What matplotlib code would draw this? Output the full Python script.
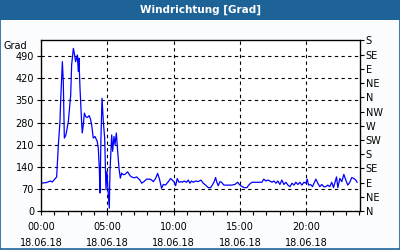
import matplotlib
matplotlib.use("Agg")
import matplotlib.pyplot as plt
from matplotlib.patches import Rectangle

# hours after 00:00 on 18.06.18 and wind direction in degrees
hours = [
    0.00, 0.40, 0.70, 0.85, 1.00, 1.10, 1.18, 1.31, 1.43, 1.48, 1.56, 1.61, 1.68, 1.76,
    1.88, 2.06, 2.24, 2.31, 2.44, 2.51, 2.61, 2.74, 2.81, 2.86, 2.94, 3.06, 3.11, 3.19,
    3.27, 3.37, 3.49, 3.64, 3.74, 3.82, 3.94, 4.07, 4.24, 4.32, 4.40, 4.45, 4.52, 4.60,
    4.70, 4.80, 4.90, 4.97, 5.05, 5.15, 5.20, 5.33, 5.40, 5.50, 5.58, 5.68, 5.78, 5.88,
    5.98, 6.08, 6.20, 6.33, 6.53, 6.71, 6.83, 7.03, 7.21, 7.34, 7.46, 7.59, 7.76, 7.96,
    8.21, 8.34, 8.47, 8.64, 8.79, 8.92, 9.09, 9.22, 9.39, 9.60, 9.77, 9.90, 10.02, 10.15,
    10.27, 10.40, 10.55, 10.65, 10.80, 10.98, 11.10, 11.23, 11.35, 11.48, 11.66, 11.85,
    12.06, 12.23, 12.41, 12.61, 12.79, 12.91, 13.06, 13.16, 13.26, 13.36, 13.49, 13.61,
    13.79, 13.99, 14.37, 14.62, 14.82, 15.00, 15.17, 15.35, 15.52, 15.70, 15.90, 16.28,
    16.65, 16.80, 16.95, 17.11, 17.26, 17.41, 17.56, 17.71, 17.86, 18.01, 18.16, 18.31,
    18.46, 18.62, 18.77, 18.92, 19.07, 19.22, 19.37, 19.52, 19.67, 19.82, 19.97, 20.07,
    20.17, 20.32, 20.47, 20.62, 20.72, 20.87, 21.02, 21.17, 21.32, 21.47, 21.62, 21.77,
    21.92, 22.05, 22.18, 22.28, 22.38, 22.53, 22.68, 22.83, 22.98, 23.13, 23.28, 23.43,
    23.58, 23.73, 23.83,
]
direction = [
    88, 90, 95, 92, 99, 104, 108, 210, 283, 347, 426, 473, 410, 231,
    241, 283, 368, 463, 515, 500, 473, 494, 442, 484, 389, 283, 247, 273,
    310, 299, 296, 302, 289, 273, 231, 236, 220, 199, 131, 57, 231, 357,
    283, 231, 67, 125, 67, 9, 125, 241, 189, 236, 210, 247, 189, 136,
    104, 120, 115, 116, 124, 112, 108, 105, 108, 103, 98, 88, 93, 101,
    101, 98, 93, 103, 119, 103, 72, 84, 82, 93, 103, 98, 93, 80,
    103, 91, 93, 91, 95, 91, 98, 88, 95, 91, 95, 93,
    98, 88, 82, 74, 74, 82, 93, 106, 91, 80, 93, 91,
    82, 82, 82, 84, 91, 82, 77, 74, 74, 84, 91, 91,
    91, 101, 95, 98, 95, 91, 95, 88, 95, 84, 98, 84,
    91, 82, 77, 88, 82, 91, 84, 91, 82, 91, 88, 101,
    82, 84, 77, 91, 101, 88, 77, 84, 77, 77, 82, 77,
    91, 74, 93, 108, 74, 103, 93, 116, 98, 82, 91, 106,
    103, 98, 91,
]

left_ticks = [0, 70, 140, 210, 280, 350, 420, 490]
compass_ticks = [0, 45, 90, 135, 180, 225, 270, 315, 360, 405, 450, 495, 540]
compass_labels = ["N", "NE", "E", "SE", "S", "SW", "W", "NW", "N", "NE", "E", "SE", "S"]
time_ticks = [0, 5, 10, 15, 20]
time_labels = ["00:00\n18.06.18", "05:00\n18.06.18", "10:00\n18.06.18",
               "15:00\n18.06.18", "20:00\n18.06.18"]

BAR = "#1d6397"
FONT = 7

fig = plt.figure(figsize=(4, 2.5), dpi=100, facecolor="#fbfcfd")
fig.patches.append(Rectangle((0, 0.92), 1, 0.08, transform=fig.transFigure,
                             facecolor=BAR, edgecolor="none", zorder=0))
fig.patches.append(Rectangle((0.0012, 0.003), 0.9976, 0.995, transform=fig.transFigure,
                             facecolor="none", edgecolor=BAR, linewidth=1.2, zorder=5))
fig.text(0.5, 0.96, "Windrichtung [Grad]", color="white", fontsize=7.5,
         fontweight="bold", ha="center", va="center")

ax = fig.add_axes([0.1025, 0.156, 0.7975, 0.682])
ax.set_facecolor("white")
ax.plot(hours, direction, color="#0000ff", linewidth=0.9)

ax.set_xlim(0, 24.05)
ax.set_ylim(0, 540)
ax.set_xticks(time_ticks)
ax.set_xticklabels(time_labels, fontsize=FONT, linespacing=1.7)
ax.set_xticks(range(0, 25), minor=True)
ax.set_yticks(left_ticks)
ax.set_yticklabels([str(v) for v in left_ticks], fontsize=FONT)
ax.tick_params(axis="both", which="both", direction="out", length=3, width=0.8, pad=2)
ax.tick_params(axis="x", which="major", pad=5)
ax.grid(True, which="major", color="black", linestyle=(0, (3, 3)), linewidth=0.8)
for side in ax.spines.values():
    side.set_linewidth(0.9)
ax.text(-0.044, 0.965, "Grad", transform=ax.transAxes, fontsize=FONT,
        ha="right", va="center")

ax2 = ax.twinx()
ax2.set_ylim(0, 540)
ax2.set_yticks(compass_ticks)
ax2.set_yticklabels(compass_labels, fontsize=FONT)
ax2.tick_params(axis="y", direction="out", length=3, width=0.8, pad=1)

fig.savefig("out.png", dpi=100, facecolor=fig.get_facecolor())
